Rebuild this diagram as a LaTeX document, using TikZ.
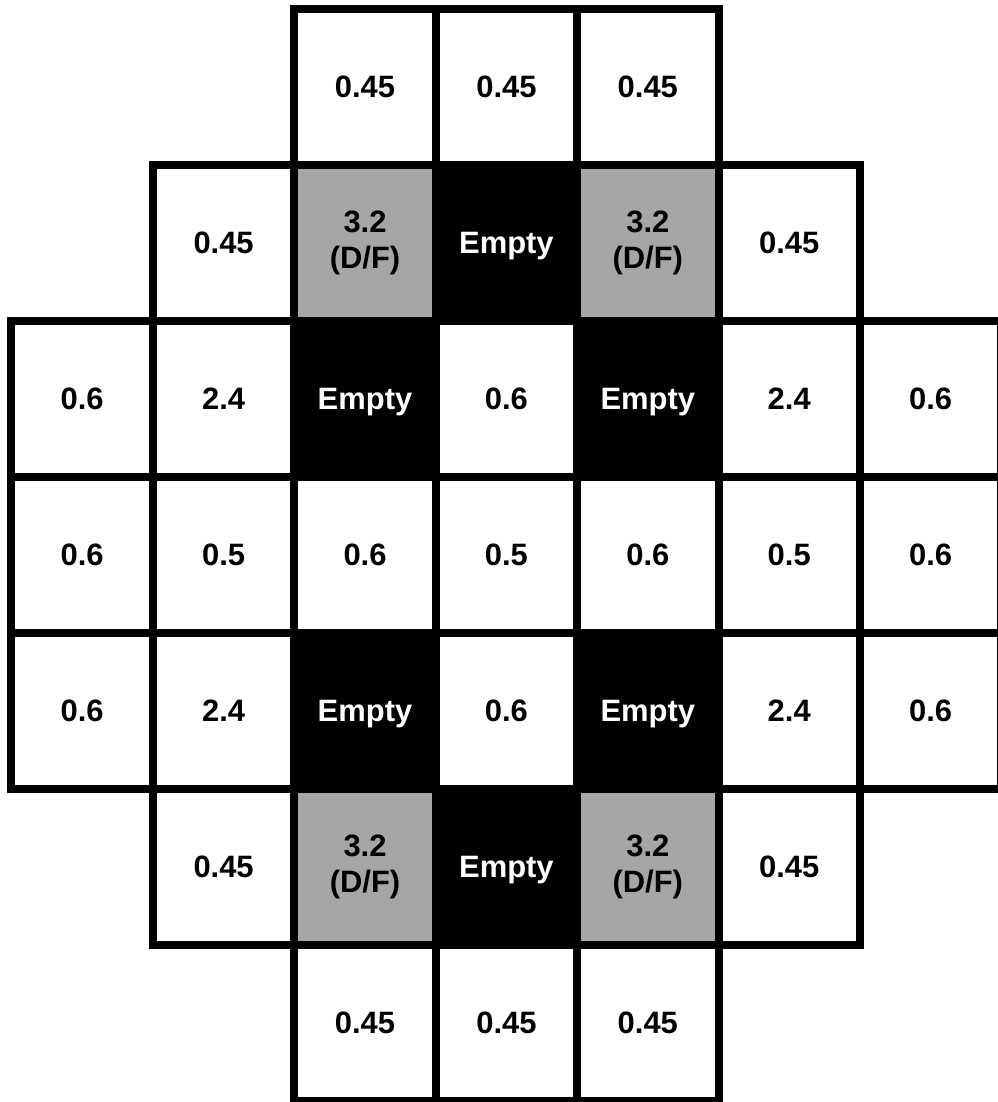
\documentclass[tikz,border=0pt]{standalone}
\usepackage{fontspec}
\setmainfont{Liberation Sans}
\usetikzlibrary{positioning}

\definecolor{dfgray}{RGB}{166,166,166}

\begin{document}
\begin{tikzpicture}[x=2.828cm, y=-3.12cm,
    rodcell/.style={draw=black, fill=white, line width=0.16cm,
        minimum width=2.828cm, minimum height=3.12cm, inner sep=0pt,
        align=center, font=\fontsize{17.6}{20.5}\selectfont\bfseries},
    dfcell/.style={rodcell, fill=dfgray},
    voidcell/.style={rodcell, fill=black, text=white, text depth=0pt}]
    \useasboundingbox (0.4187,0.4423) rectangle (7.4696,7.5064);
    % Row 1
    \node[rodcell] (c13) at (3,1) {0.45};
    \node[rodcell] (c14) at (4,1) {0.45};
    \node[rodcell] (c15) at (5,1) {0.45};
    % Row 2
    \node[rodcell]  (c22) at (2,2) {0.45};
    \node[dfcell]   (c23) at (3,2) {3.2\\(D/F)};
    \node[voidcell] (c24) at (4,2) {Empty};
    \node[dfcell]   (c25) at (5,2) {3.2\\(D/F)};
    \node[rodcell]  (c26) at (6,2) {0.45};
    % Row 3
    \node[rodcell]  (c31) at (1,3) {0.6};
    \node[rodcell]  (c32) at (2,3) {2.4};
    \node[voidcell] (c33) at (3,3) {Empty};
    \node[rodcell]  (c34) at (4,3) {0.6};
    \node[voidcell] (c35) at (5,3) {Empty};
    \node[rodcell]  (c36) at (6,3) {2.4};
    \node[rodcell]  (c37) at (7,3) {0.6};
    % Row 4
    \node[rodcell] (c41) at (1,4) {0.6};
    \node[rodcell] (c42) at (2,4) {0.5};
    \node[rodcell] (c43) at (3,4) {0.6};
    \node[rodcell] (c44) at (4,4) {0.5};
    \node[rodcell] (c45) at (5,4) {0.6};
    \node[rodcell] (c46) at (6,4) {0.5};
    \node[rodcell] (c47) at (7,4) {0.6};
    % Row 5
    \node[rodcell]  (c51) at (1,5) {0.6};
    \node[rodcell]  (c52) at (2,5) {2.4};
    \node[voidcell] (c53) at (3,5) {Empty};
    \node[rodcell]  (c54) at (4,5) {0.6};
    \node[voidcell] (c55) at (5,5) {Empty};
    \node[rodcell]  (c56) at (6,5) {2.4};
    \node[rodcell]  (c57) at (7,5) {0.6};
    % Row 6
    \node[rodcell]  (c62) at (2,6) {0.45};
    \node[dfcell]   (c63) at (3,6) {3.2\\(D/F)};
    \node[voidcell] (c64) at (4,6) {Empty};
    \node[dfcell]   (c65) at (5,6) {3.2\\(D/F)};
    \node[rodcell]  (c66) at (6,6) {0.45};
    % Row 7
    \node[rodcell] (c73) at (3,7) {0.45};
    \node[rodcell] (c74) at (4,7) {0.45};
    \node[rodcell] (c75) at (5,7) {0.45};
\end{tikzpicture}
\end{document}
